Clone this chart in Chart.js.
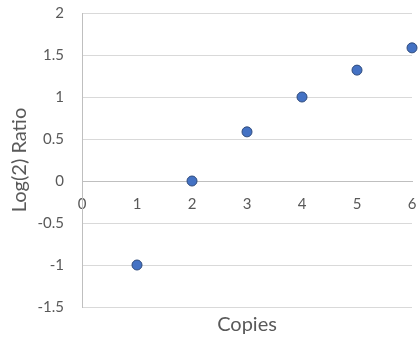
<!DOCTYPE html>
<html>
<head>
<meta charset="utf-8">
<script src="https://cdn.jsdelivr.net/npm/chart.js@4/dist/chart.umd.min.js"></script>
<style>
  html, body { margin: 0; padding: 0; background: #fff; }
  #wrap { width: 418px; height: 343px; }
</style>
</head>
<body>
<div id="wrap"><canvas id="chart"></canvas></div>
<script>
// data
const copies = [1, 2, 3, 4, 5, 6];
const log2Ratio = [-1, 0, 0.585, 1, 1.32, 1.585];
const xTicks = [0, 1, 2, 3, 4, 5, 6];
const yTicks = [-1.5, -1, -0.5, 0, 0.5, 1, 1.5, 2];

const xTitle = "Copies";
const yTitle = "Log(2) Ratio";

const textColor = "#595959";
const font = "Lato, 'Open Sans', sans-serif";

// axis titles drawn by hand so they sit where Excel put them
const titlesPlugin = {
  id: "titles",
  afterDraw(chart) {
    const ctx = chart.ctx;
    const area = chart.chartArea;
    ctx.save();
    ctx.fillStyle = textColor;
    ctx.font = "20px " + font;
    ctx.textAlign = "center";
    ctx.textBaseline = "middle";
    ctx.fillText(xTitle, (area.left + area.right) / 2, 325);
    ctx.translate(20, (area.top + area.bottom) / 2);
    ctx.rotate(-Math.PI / 2);
    ctx.fillText(yTitle, 0, 0);
    ctx.restore();
  }
};

const points = copies.map((c, i) => ({ x: c, y: log2Ratio[i] }));

new Chart(document.getElementById("chart"), {
  type: "scatter",
  data: {
    datasets: [{
      data: points,
      backgroundColor: "#4472C4",
      borderColor: "#2F4B7C",
      borderWidth: 1,
      pointRadius: 5,
      pointHoverRadius: 5,
      clip: false
    }]
  },
  options: {
    responsive: true,
    maintainAspectRatio: false,
    animation: false,
    layout: { padding: { left: 0, right: 5, top: 13, bottom: 36 } },
    plugins: {
      legend: { display: false },
      tooltip: { enabled: false }
    },
    scales: {
      x: {
        type: "linear",
        position: { y: 0 },
        min: 0,
        max: 6,
        afterBuildTicks: s => { s.ticks = xTicks.map(v => ({ value: v })); },
        afterFit: s => { s.paddingLeft = 0; s.paddingRight = 0; },
        grid: { display: false, drawTicks: false },
        border: { display: true, color: "#bfbfbf", width: 1 },
        ticks: { color: textColor, font: { family: font, size: 15 }, padding: 14, callback: v => String(v) }
      },
      y: {
        min: -1.5,
        max: 2,
        afterBuildTicks: s => { s.ticks = yTicks.map(v => ({ value: v })); },
        afterFit: s => { s.width = 82; s.paddingTop = 0; s.paddingBottom = 0; },
        grid: { color: "#d9d9d9", drawTicks: false },
        border: { display: true, color: "#bfbfbf", width: 1 },
        ticks: { color: textColor, font: { family: font, size: 15 }, padding: 18, callback: v => String(v) }
      }
    }
  },
  plugins: [titlesPlugin]
});
</script>
</body>
</html>
